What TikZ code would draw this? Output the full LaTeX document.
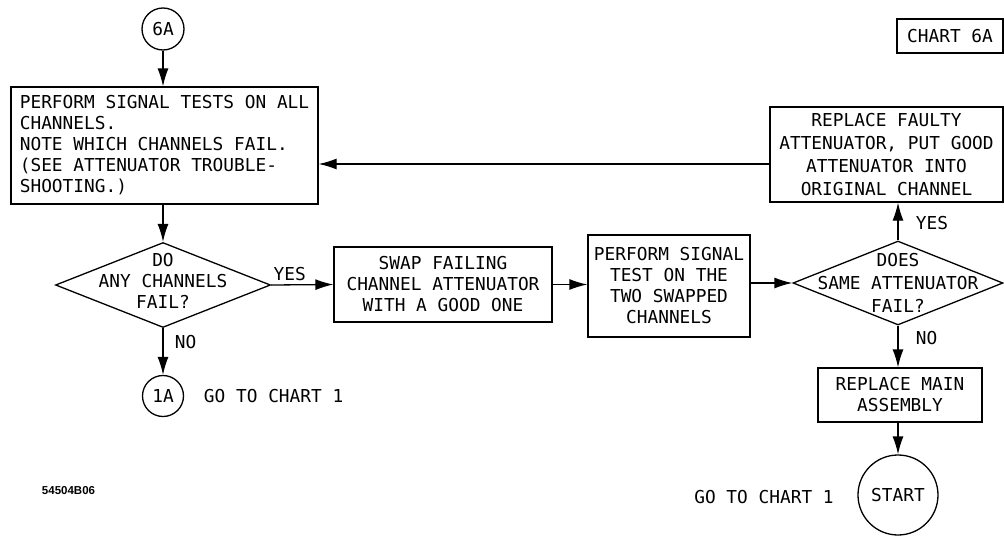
\documentclass[tikz,border=0pt]{standalone}
\usepackage{fontspec}
\setmonofont{DejaVu Sans Mono}
\newfontfamily\codefont{Liberation Sans}
\usetikzlibrary{shapes.geometric,arrows.meta}

\begin{document}
\begin{tikzpicture}[x=1pt,y=-1pt,line width=1.3pt,
  every node/.style={font=\ttfamily\fontsize{17.8}{21}\selectfont},
  wide/.style={font=\ttfamily\fontsize{17.8}{22.8}\selectfont},
  box/.style={draw,rectangle,inner sep=0pt,align=center},
  dec/.style={draw,diamond,inner sep=0pt},
  conn/.style={draw,circle,inner sep=0pt},
  flow/.style={-{Latex[length=18pt,width=11pt]}}]
  \useasboundingbox (0,0) rectangle (1004,538);

  % Left column
  \node[conn,minimum size=42pt] (c6A) at (163,29) {6A};
  \node[box,minimum width=307pt,minimum height=117pt,align=left]
    (perf) at (164.5,145.5) {PERFORM SIGNAL TESTS ON ALL\\CHANNELS.\\NOTE WHICH CHANNELS FAIL.\\(SEE ATTENUATOR TROUBLE-\\SHOOTING.)};
  \node[dec,minimum width=215pt,minimum height=85pt] (any) at (163,285) {};
  \node[align=center] (anyt) at (163,281) {DO\\ANY CHANNELS\\FAIL?};
  \node[conn,minimum size=41pt] (c1A) at (163,396) {1A};
  \node[anchor=west] (go1) at (200,396) {GO TO CHART 1};
  \node[anchor=west,font=\codefont\bfseries\fontsize{11.5}{12}\selectfont] (code) at (38,491) {54504B06};

  % Middle row
  \node[box,minimum width=218pt,minimum height=75pt] (swap) at (443,284.5) {SWAP FAILING\\CHANNEL ATTENUATOR\\WITH A GOOD ONE};
  \node[box,minimum width=162pt,minimum height=102pt] (sig) at (669,286) {PERFORM SIGNAL\\TEST ON THE\\TWO SWAPPED\\CHANNELS};

  % Right column
  \node[box,minimum width=106pt,minimum height=34pt] (chart) at (950,36) {CHART 6A};
  \node[box,wide,minimum width=233pt,minimum height=95pt] (faulty) at (886.5,154.5) {REPLACE FAULTY\\ATTENUATOR, PUT GOOD\\ATTENUATOR INTO\\ORIGINAL CHANNEL};
  \node[dec,minimum width=210pt,minimum height=84pt] (same) at (898,283) {};
  \node[wide,align=center] (samet) at (898,283) {DOES\\SAME ATTENUATOR\\FAIL?};
  \node[box,minimum width=164pt,minimum height=54pt] (main) at (900,395) {REPLACE MAIN\\ASSEMBLY};
  \node[conn,minimum size=80pt] (start) at (898,495) {START};
  \node (go2) at (764,497) {GO TO CHART 1};

  % Connectors
  \draw[flow] (c6A) -- (perf.north -| c6A.south);
  \draw[flow] (perf.south -| any.north) -- (any.north);
  \draw[flow] (any.east) -- (swap.west) node[pos=0.3,above] {YES};
  \draw[flow] (any.south) -- (c1A.north) node[pos=0.3,right=8pt] {NO};
  \draw[flow] (swap.east) -- (sig.west |- swap.east);
  \draw[flow] (sig.east |- same.west) -- (same.west);
  \draw[flow] (same.north) -- (same.north |- faulty.south) node[pos=0.45,right=14pt] {YES};
  \draw[flow] ([yshift=-9.5pt]faulty.west) -- ([yshift=-9.5pt]faulty.west -| perf.east);
  \draw[flow] (same.south) -- (same.south |- main.north) node[pos=0.3,right=14pt] {NO};
  \draw[flow] (start.north |- main.south) -- (start.north);
\end{tikzpicture}
\end{document}
